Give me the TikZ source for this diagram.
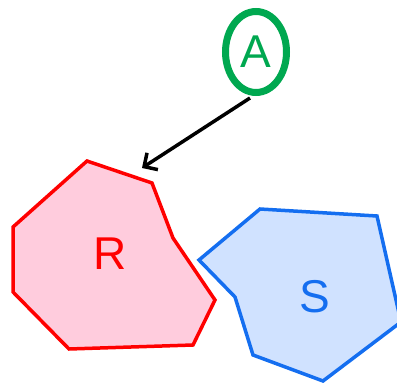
\documentclass[tikz,border=0pt]{standalone}
\usepackage{fontspec}
\setmainfont{Liberation Sans}
\usetikzlibrary{arrows.meta,shapes.geometric}
\definecolor{rline}{RGB}{255,0,0}
\definecolor{rfill}{RGB}{255,204,221}
\definecolor{sline}{RGB}{20,110,240}
\definecolor{sfill}{RGB}{208,226,255}
\definecolor{agreen}{RGB}{0,168,80}
\tikzset{
  rpoly/.style={draw=rline,fill=rfill,line width=3.5pt,line join=miter},
  spoly/.style={draw=sline,fill=sfill,line width=3.5pt,line join=miter},
  lbl/.style={font=\fontsize{46}{46}\selectfont},
  anode/.style={ellipse,draw=agreen,line width=7pt,minimum width=61pt,minimum height=81pt,inner sep=0pt,text=agreen,font=\fontsize{46}{46}\selectfont},
  conn/.style={line width=3.5pt,-{Straight Barb[length=10pt,width=20pt,line width=3.5pt]}}
}
\begin{document}
\begin{tikzpicture}[x=1pt,y=-1pt]
\useasboundingbox (0,0) rectangle (397,383);
\begin{scope}
\clip (0,0) rectangle (397,383);
\draw[spoly] (260,209) -- (377,216) -- (401,322) -- (323,381) -- (253,355) -- (235,297) -- (199,260) -- cycle;
\draw[rpoly] (87,161) -- (152,183) -- (173,238) -- (215,300) -- (193,345) -- (69,349) -- (13,292) -- (13,227) -- cycle;
\end{scope}
\node[lbl,text=rline] (R) at (110,254) {R};
\node[lbl,text=sline] (S) at (315,297) {S};
\node[anode] (A) at (256,52) {A};
\coordinate (tip) at (142,168);
\coordinate (start) at ([xshift=-6pt,yshift=-2pt]A.south);
\draw[conn] (start) -- (tip);
\end{tikzpicture}
\end{document}
